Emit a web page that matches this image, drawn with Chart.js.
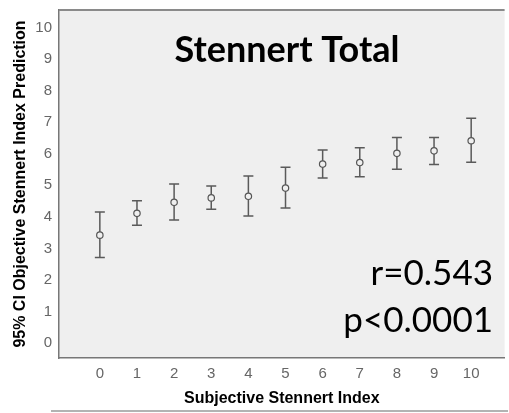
<!DOCTYPE html>
<html>
<head>
<meta charset="utf-8">
<script src="https://cdn.jsdelivr.net/npm/chart.js@4/dist/chart.umd.min.js"></script>
<style>
  html, body { margin: 0; padding: 0; background: #ffffff; }
  #wrap { position: relative; width: 509px; height: 413px; }
</style>
</head>
<body>
<div id="wrap"><canvas id="c" width="509" height="413"></canvas></div>
<script>
// ---- data ----
const categories = [0, 1, 2, 3, 4, 5, 6, 7, 8, 9, 10];
const meanValues = [3.42, 4.11, 4.46, 4.60, 4.65, 4.91, 5.67, 5.72, 6.01, 6.09, 6.41];
const upperCI    = [4.15, 4.51, 5.04, 4.98, 5.29, 5.57, 6.12, 6.19, 6.51, 6.51, 7.12];
const lowerCI    = [2.71, 3.73, 3.90, 4.24, 4.03, 4.28, 5.23, 5.27, 5.51, 5.66, 5.73];
const xTickValues = [0, 1, 2, 3, 4, 5, 6, 7, 8, 9, 10];
const yTickValues = [0, 1, 2, 3, 4, 5, 6, 7, 8, 9, 10];
const chartTitle = "Stennert Total";
const statLines = ["r=0.543", "p<0.0001"];
const xTitle = "Subjective Stennert Index";
const yTitle = "95% CI Objective Stennert Index Prediction";

const points = categories.map((c, i) => ({ x: c, y: meanValues[i] }));

const bgPlugin = {
  id: 'bg',
  beforeDraw(chart) {
    const { ctx, chartArea: a } = chart;
    ctx.save();
    ctx.fillStyle = '#efefef';
    ctx.fillRect(a.left, a.top, a.right - a.left, a.bottom - a.top);
    ctx.restore();
  },
  afterDraw(chart) {
    const { ctx, chartArea: a } = chart;
    ctx.save();
    ctx.strokeStyle = '#8a8a8a';
    ctx.lineWidth = 2;
    ctx.beginPath();
    ctx.moveTo(a.left, a.top);
    ctx.lineTo(a.right, a.top);
    ctx.stroke();
    ctx.strokeStyle = '#9a9a9a';
    ctx.lineWidth = 1.5;
    ctx.beginPath();
    ctx.moveTo(51, 411);
    ctx.lineTo(508, 411);
    ctx.stroke();
    ctx.fillStyle = '#000';
    ctx.font = 'bold 36px Lato';
    ctx.textAlign = 'center';
    ctx.textBaseline = 'alphabetic';
    ctx.fillText(chartTitle, 287, a.top + 52);
    ctx.font = '35px Lato';
    ctx.textAlign = 'right';
    ctx.fillText(statLines[0], 493, 285);
    ctx.fillText(statLines[1], 493, 332);
    ctx.restore();
  }
};

const errPlugin = {
  id: 'err',
  afterDatasetsDraw(chart) {
    const { ctx, scales: { x, y } } = chart;
    ctx.save();
    ctx.strokeStyle = '#5a5a5a';
    ctx.lineWidth = 1.5;
    categories.forEach((c, i) => {
      const px = x.getPixelForValue(c);
      const pt = y.getPixelForValue(upperCI[i]);
      const pb = y.getPixelForValue(lowerCI[i]);
      const pm = y.getPixelForValue(meanValues[i]);
      const r = 3.2;
      ctx.beginPath();
      ctx.moveTo(px, pt); ctx.lineTo(px, pm - r);
      ctx.moveTo(px, pm + r); ctx.lineTo(px, pb);
      ctx.moveTo(px - 5, pt); ctx.lineTo(px + 5, pt);
      ctx.moveTo(px - 5, pb); ctx.lineTo(px + 5, pb);
      ctx.stroke();
    });
    ctx.restore();
  }
};

new Chart(document.getElementById('c'), {
  type: 'scatter',
  data: {
    datasets: [{
      data: points,
      pointStyle: 'circle',
      pointRadius: 3.2,
      pointHoverRadius: 3.2,
      pointBackgroundColor: 'rgba(0,0,0,0)',
      pointBorderColor: '#555',
      pointBorderWidth: 1.2,
      showLine: false
    }]
  },
  options: {
    responsive: false,
    animation: false,
    events: [],
    layout: { padding: { top: 6, right: 2, left: 0, bottom: 0 } },
    plugins: { legend: { display: false }, tooltip: { enabled: false }, title: { display: false } },
    scales: {
      x: {
        type: 'linear',
        min: -1.1,
        max: 10.9,
        afterBuildTicks(s) { s.ticks = xTickValues.map(v => ({ value: v })); },
        afterFit(s) { s.height = 55; },
        grid: { display: false, drawOnChartArea: false, drawTicks: true, tickLength: 6, tickColor: '#666', tickWidth: 1.2 },
        border: { display: true, color: '#777', width: 1.5 },
        ticks: { color: '#666', font: { family: 'Liberation Sans, Arial', size: 15 }, padding: 1, maxRotation: 0, autoSkip: false },
        title: { display: true, text: xTitle, color: '#000', font: { family: 'Liberation Sans, Arial', size: 16, weight: 'bold' }, padding: 5 }
      },
      y: {
        type: 'linear',
        min: -0.47,
        max: 10.55,
        afterBuildTicks(s) { s.ticks = yTickValues.map(v => ({ value: v })); },
        afterFit(s) { s.width = 59; },
        grid: { display: false, drawOnChartArea: false, drawTicks: true, tickLength: 6, tickColor: '#666', tickWidth: 1.2 },
        border: { display: true, color: '#777', width: 1.5 },
        ticks: { color: '#666', font: { family: 'Liberation Sans, Arial', size: 15 }, padding: 1, autoSkip: false },
        title: { display: true, text: yTitle, color: '#000', font: { family: 'Liberation Sans, Arial', size: 16, weight: 'bold' }, padding: 11 }
      }
    }
  },
  plugins: [bgPlugin, errPlugin]
});
</script>
</body>
</html>
